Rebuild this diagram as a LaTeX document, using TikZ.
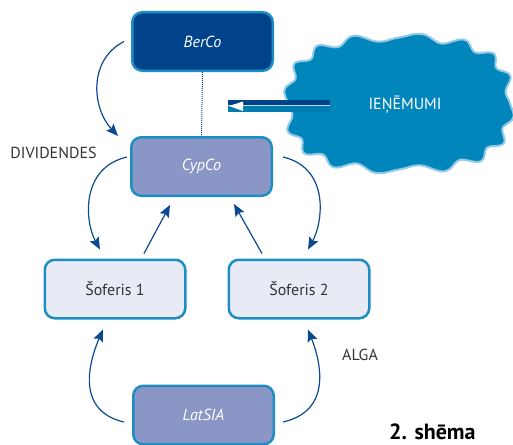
\documentclass[tikz,border=0pt]{standalone}
\usepackage{fontspec}
\setmainfont{PT Sans}
\usetikzlibrary{arrows.meta,calc}
\definecolor{navy}{HTML}{00438B}
\definecolor{rim}{HTML}{1E8DC3}
\definecolor{lav}{HTML}{8A96C6}
\definecolor{pale}{HTML}{E8EAF6}
\definecolor{cloudfill}{HTML}{0086BA}
\definecolor{cloudrim}{HTML}{92C8E8}
\definecolor{arr}{HTML}{0B4A91}
\definecolor{txt}{HTML}{333333}
\begin{document}
\begin{tikzpicture}[x=1pt,y=-1pt,
  box/.style={draw=rim, line width=2.5pt, rounded corners=10pt, minimum width=140.5pt,
    minimum height=58.5pt, inner sep=0pt, font=\fontsize{16}{19}\selectfont},
  darkbox/.style={box, fill=navy, text=white, font=\fontsize{16}{19}\selectfont\itshape},
  midbox/.style={box, fill=lav, text=white, font=\fontsize{16}{19}\selectfont\itshape},
  lightbox/.style={box, fill=pale, text=txt},
  flow/.style={draw=arr, line width=1.2pt, -{Stealth[length=12pt,width=10pt,inset=2pt]}},
  lbl/.style={text=txt, font=\fontsize{16}{19}\selectfont, inner sep=0pt}
]
\useasboundingbox (0,0) rectangle (513,444);

% cloud (wavy superellipse)
\fill[cloudfill, draw=cloudrim, line width=2pt]
  plot[domain=0:360, samples=361]
  ({399 + (111+4*sin(16*\x))*ifthenelse(cos(\x)<0,-1,1)*(abs(cos(\x))+0.00001)^0.75},
   {103.5 + (66+4*sin(16*\x))*ifthenelse(sin(\x)<0,-1,1)*(abs(sin(\x))+0.00001)^0.75}) -- cycle;
\node[text=white, font=\fontsize{16}{19}\selectfont, inner sep=0pt] (rev) at (405,105) {IEŅĒMUMI};

% double arrow from cloud
\coordinate (dA) at (228,100);
\coordinate (dB) at (330,104.5);
\coordinate (dC) at (228,105.5);
\coordinate (dD) at (330,111.5);
\fill[navy] (dA) rectangle (dB);
\fill[cloudfill!85!navy] (dC) rectangle (dD);
\fill[cloudrim!60!white] (228,104.5) rectangle (330,105.5);
\fill[white] (229,106) -- (243,101.5) -- (243,111) -- cycle;

% boxes
\node[darkbox] (berco) at (202.5,41.5) {BerCo};
\node[midbox] (cypco) at (201.5,166.5) {CypCo};
\node[lightbox] (sof1) at (115,289) {Šoferis 1};
\node[lightbox] (sof2) at (299,289) {Šoferis 2};
\node[midbox] (latsia) at (203.5,415) {LatSIA};

% connectors
\draw[draw=arr, line width=1pt, densely dotted] (berco.south) -- (cypco.north);
\draw[flow] ($(berco.west)+(-7,0)$) .. controls (88,60) and (92,108) .. ($(cypco.north west)+(-12,0)$);
\draw[flow] ($(cypco.west)+(-3,-9.5)$) .. controls (80,168) and (85,222) .. ($(sof1.north)+(-15,-9)$);
\draw[flow] ($(sof1.north)+(29,-5)$) -- ($(cypco.south)+(-31.5,8)$);
\draw[flow] ($(sof2.north)+(-37,-5)$) -- ($(cypco.south)+(32.5,7)$);
\draw[flow] ($(cypco.east)+(10,-9.5)$) .. controls (330,168) and (323,222) .. ($(sof2.north)+(9,-9)$);
\draw[flow] ($(latsia.west)+(-8,7)$) .. controls (72,410) and (92,355) .. ($(sof1.south)+(-12,10)$);
\draw[flow] ($(latsia.east)+(8,7)$) .. controls (336,410) and (318,355) .. ($(sof2.south)+(9,10)$);

% labels
\node[lbl] (div) at (53.5,153) {DIVIDENDES};
\node[lbl] (alga) at (360,355) {ALGA};
\node[text=black, font=\fontsize{22}{26}\selectfont\bfseries, inner sep=0pt, anchor=base west] (cap) at (389,439) {2. shēma};
\end{tikzpicture}
\end{document}
